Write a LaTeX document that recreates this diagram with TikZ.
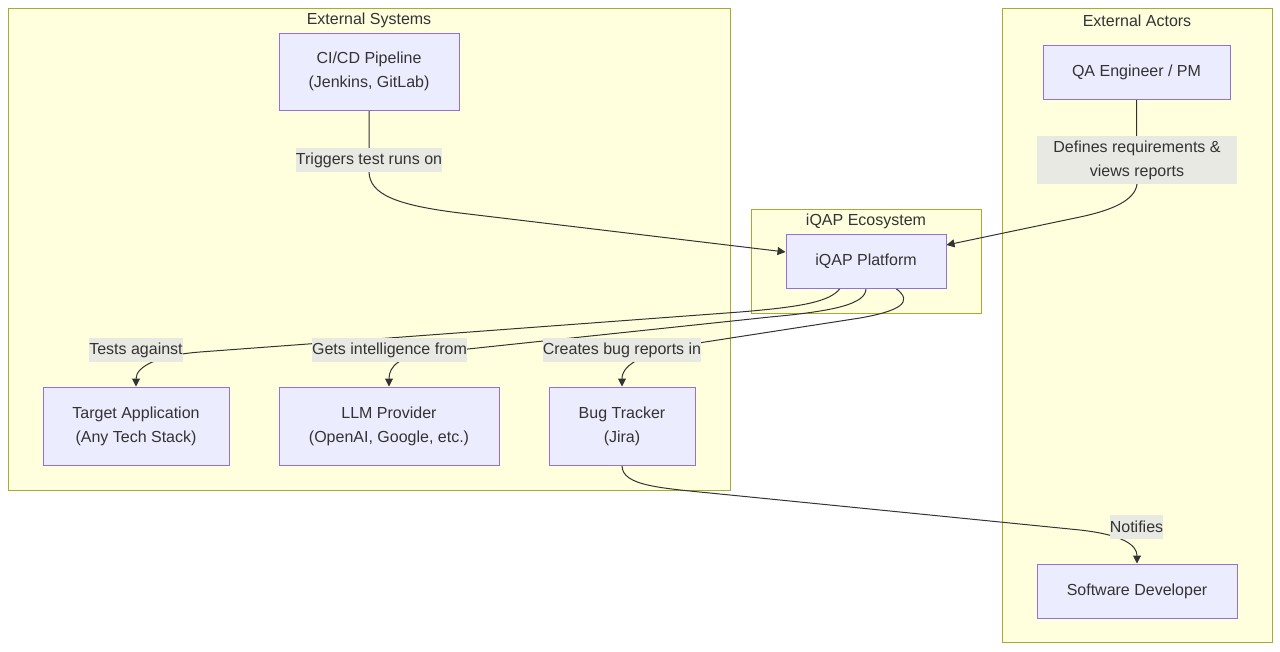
\documentclass[tikz,border=0pt]{standalone}
\usepackage{fontspec}
\setmainfont{Liberation Sans}
\usetikzlibrary{arrows.meta,calc,positioning}
\definecolor{textgray}{HTML}{333333}
\definecolor{compfill}{HTML}{ECECFF}
\definecolor{compline}{HTML}{9370DB}
\definecolor{clusterfill}{HTML}{FFFFDE}
\definecolor{clusterline}{HTML}{AAAA33}
\definecolor{lblbg}{HTML}{E9E9E3}
\pgfdeclarelayer{clusters}
\pgfdeclarelayer{edges}
\pgfsetlayers{clusters,edges,main}

\begin{document}
\begin{tikzpicture}[x=1pt, y=-1pt, >={Triangle[length=8pt,width=8pt]},
    every node/.style={font=\fontsize{16}{24}\selectfont, text=textgray},
    comp/.style={draw=compline, fill=compfill, line width=1pt, align=center, inner sep=0pt},
    lbl/.style={fill=lblbg, inner sep=0pt, minimum height=24pt, align=center},
    cluster/.style={draw=clusterline, fill=clusterfill, line width=1pt},
    edge/.style={draw=textgray, line width=1pt, ->}]
    \useasboundingbox (0,0) rectangle (1280,651);
    % clusters
    \begin{pgfonlayer}{clusters}
      \draw[cluster] (8,8) rectangle (730,490);
      \draw[cluster] (751,209) rectangle (981,313);
      \draw[cluster] (1002,8) rectangle (1272,642);
    \end{pgfonlayer}
    \node (extsys) at (369,20.5) {External Systems};
    \node (ecosys) at (866,221) {iQAP Ecosystem};
    \node (extact) at (1137,20.5) {External Actors};
    % components
    \node[comp, minimum width=180pt, minimum height=77pt] (cicd) at (369,71.5) {CI/CD Pipeline\\(Jenkins, GitLab)};
    \node[comp, minimum width=187pt, minimum height=54pt] (qa) at (1136.5,72) {QA Engineer / PM};
    \node[comp, minimum width=160pt, minimum height=54pt] (iqap) at (866,261) {iQAP Platform};
    \node[comp, minimum width=186pt, minimum height=78pt] (tgt) at (136,426) {Target Application\\(Any Tech Stack)};
    \node[comp, minimum width=220pt, minimum height=78pt] (llm) at (389,426) {LLM Provider\\(OpenAI, Google, etc.)};
    \node[comp, minimum width=146pt, minimum height=78pt] (bug) at (622,426) {Bug Tracker\\(Jira)};
    \node[comp, minimum width=200pt, minimum height=54pt] (dev) at (1137,591) {Software Developer};
    % edge labels
    \node[lbl] (trig) at (369,160) {Triggers test runs on};
    \node[lbl, minimum width=200pt, minimum height=48pt] (defs) at (1137,160) {Defines requirements \&\\views reports};
    \node[lbl] (tests) at (136,350) {Tests against};
    \node[lbl] (gets) at (389.5,350) {Gets intelligence from};
    \node[lbl] (creates) at (622,350) {Creates bug reports in};
    \node[lbl] (notif) at (1136.5,527) {Notifies};
    % connectors
    \begin{pgfonlayer}{edges}
      \draw[edge] (cicd.south) -- (trig.south) .. controls (370,194) and (395,205) .. (460,213)
        -- ($(iqap.west)+(0,-9)$);
      \draw[edge] (qa.south) -- (defs.south) .. controls (1135,200) and (1113,210) .. (1080,217)
        -- ($(iqap.east)+(0,-16)$);
      \draw[edge] ($(iqap.south)+(-26,0)$) .. controls (830,302) and (800,307) .. (740,312)
        -- (200,352) .. controls (160,355) and (136,366) .. (tgt.north);
      \draw[edge] (iqap.south) .. controls (866,304) and (835,311) .. (770,317)
        -- (430,353) .. controls (400,356) and (389,366) .. (llm.north);
      \draw[edge] ($(iqap.south)+(30,0)$) .. controls (914,302) and (900,311) .. (860,318)
        -- (705,342) .. controls (645,351) and (622,364) .. (bug.north);
      \draw[edge] (bug.south) .. controls (622,486) and (660,488) .. (720,494)
        -- (1080,530) .. controls (1125,535) and (1137,546) .. (dev.north);
    \end{pgfonlayer}
  \end{tikzpicture}
\end{document}
